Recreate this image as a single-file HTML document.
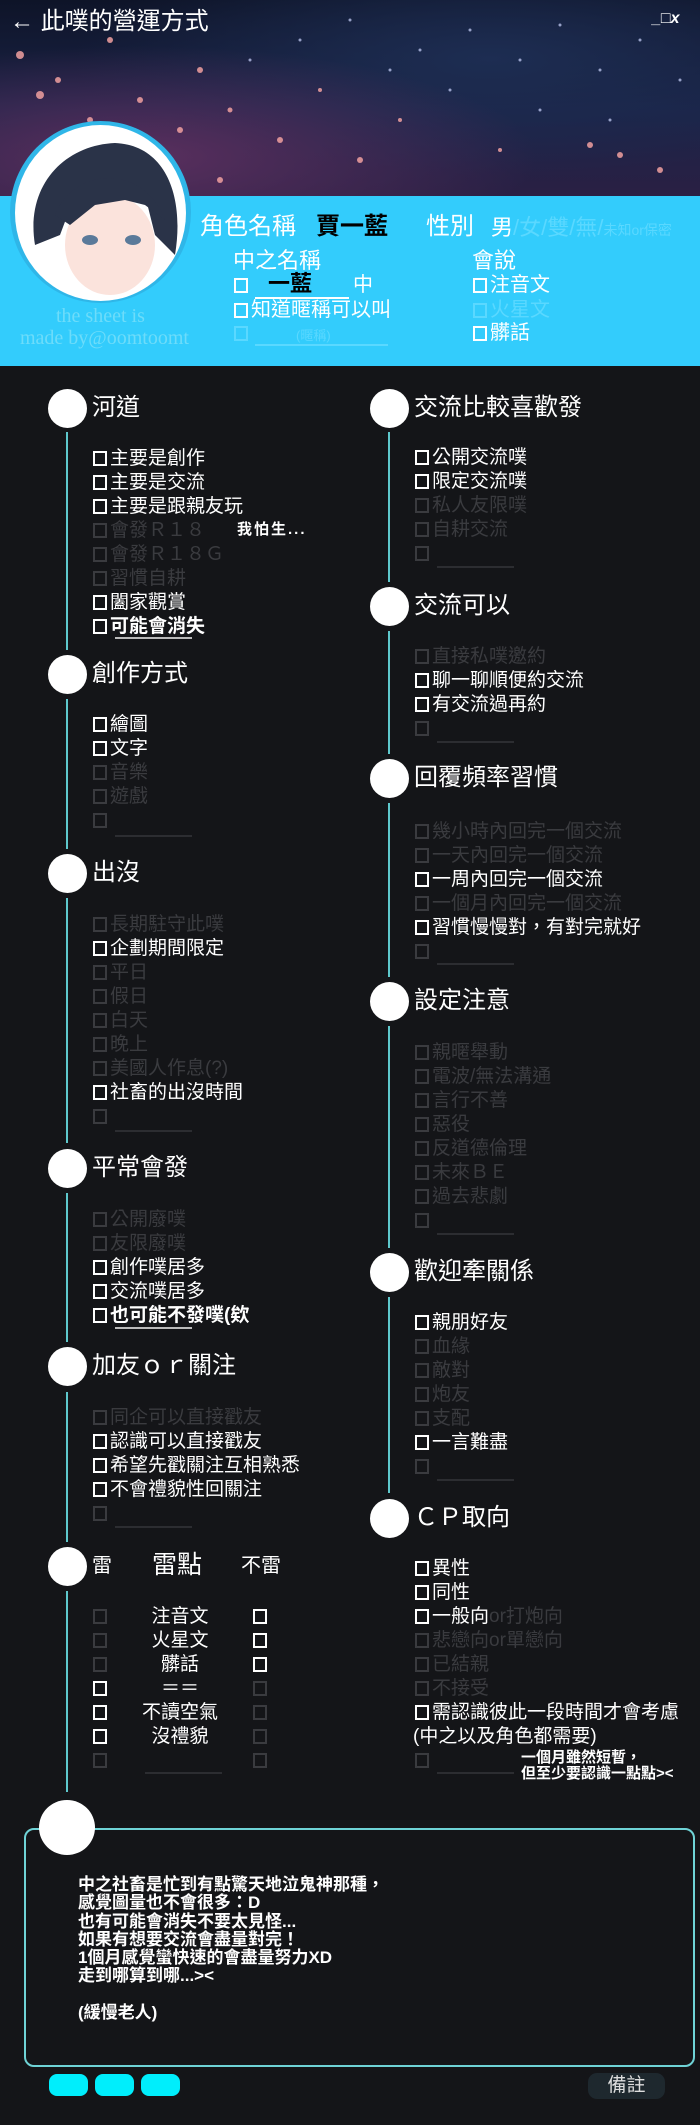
<!DOCTYPE html>
<html><head><meta charset="utf-8">
<style>
*{margin:0;padding:0;box-sizing:border-box}
body{width:700px;height:2125px;background:#141518;position:relative;overflow:hidden;font-family:"Liberation Sans","Noto Sans CJK TC",sans-serif;color:#fff}
.a{position:absolute;white-space:nowrap}
.it{position:absolute;font-size:19px;line-height:24px;white-space:nowrap;color:#fff}
.f{color:#3a3b3f}
i.b{display:inline-block;width:14px;height:15px;border:2px solid currentColor;vertical-align:-2px;margin-right:3px}
.t{position:absolute;font-size:24px;line-height:30px;white-space:nowrap;color:#fff}
.c{position:absolute;width:39px;height:39px;border-radius:50%;background:#fff}
.ln{position:absolute;width:2px;background:#5ec8cc}
.ul{position:absolute;height:2px;background:#2c2d31;width:77px}
</style></head><body>
<div class="a" style="left:0;top:0;width:700px;height:196px;background:radial-gradient(ellipse at 20% 80%,#5a2f5e 0%,rgba(40,30,70,0) 50%),radial-gradient(ellipse at 70% 30%,#1d2d52 0%,rgba(0,0,0,0) 60%),linear-gradient(180deg,#0e1428 0%,#1a2347 55%,#2a2044 100%)"></div>
<svg class="a" style="left:0;top:0" width="700" height="196">
<g fill="#f0a0a0" opacity="0.85">
<circle cx="20" cy="55" r="4"/><circle cx="58" cy="80" r="3"/><circle cx="40" cy="95" r="4"/><circle cx="90" cy="120" r="3"/><circle cx="140" cy="100" r="3"/><circle cx="180" cy="130" r="3"/><circle cx="230" cy="110" r="2.5"/><circle cx="280" cy="140" r="3"/><circle cx="320" cy="90" r="2"/><circle cx="360" cy="160" r="3"/><circle cx="400" cy="120" r="2"/><circle cx="60" cy="150" r="3"/><circle cx="150" cy="160" r="3"/><circle cx="220" cy="180" r="3"/><circle cx="590" cy="145" r="3"/><circle cx="620" cy="155" r="3"/><circle cx="660" cy="170" r="3"/><circle cx="500" cy="150" r="2"/><circle cx="110" cy="40" r="3"/><circle cx="200" cy="70" r="3"/></g>
<g fill="#cdd6ff" opacity="0.7">
<circle cx="300" cy="40" r="1.5"/><circle cx="350" cy="20" r="1.5"/><circle cx="420" cy="50" r="1.5"/><circle cx="470" cy="30" r="1.5"/><circle cx="520" cy="60" r="1.5"/><circle cx="560" cy="25" r="1.5"/><circle cx="600" cy="70" r="1.5"/><circle cx="640" cy="40" r="1.5"/><circle cx="680" cy="80" r="1.5"/><circle cx="450" cy="90" r="1.5"/><circle cx="390" cy="70" r="1.5"/><circle cx="250" cy="60" r="1.5"/><circle cx="540" cy="110" r="1.5"/><circle cx="610" cy="120" r="1.5"/></g>
</svg>
<div class="a" style="left:10px;top:7px;font-size:24px;line-height:30px">← 此噗的營運方式</div>
<div class="a" style="left:652px;top:10px;font-size:16px;font-weight:bold;font-style:italic">_□x</div>
<div class="a" style="left:0;top:196px;width:700px;height:170px;background:#33ccfc"></div>
<div class="a" style="left:10px;top:121px;width:181px;height:182px;border-radius:50%;background:#2fb6e8"></div>
<div class="a" style="left:15px;top:125px;width:171px;height:176px;border-radius:50%;background:#fff;overflow:hidden">
<svg width="171" height="176"><path d="M20 120 C10 60 50 20 100 18 C150 20 170 70 160 130 L140 110 L130 70 L100 60 L60 70 L45 110 Z" fill="#2a3348"/><ellipse cx="95" cy="120" rx="45" ry="50" fill="#fbe3dc"/><path d="M40 90 C60 40 130 40 150 95 L130 80 L110 75 L80 80 L55 100 Z" fill="#2a3348"/><ellipse cx="75" cy="115" rx="8" ry="5" fill="#5a7a9a"/><ellipse cx="118" cy="115" rx="8" ry="5" fill="#5a7a9a"/></svg></div>
<div class="a" style="left:200px;top:212px;font-size:24px;line-height:30px">角色名稱</div>
<div class="a" style="left:316px;top:212px;font-size:24px;line-height:30px;color:#000;font-weight:bold">賈一藍</div>
<div class="a" style="left:426px;top:212px;font-size:24px;line-height:30px">性別</div>
<div class="a" style="left:491px;top:214px;font-size:22px;line-height:28px">男<span style="color:#5ad8ff">/女/雙/無/<span style="font-size:14px">未知or保密</span></span></div>
<div class="a" style="left:233px;top:247px;font-size:22px;line-height:28px">中之名稱</div>
<div class="it" style="left:234px;top:273px;font-size:20px"><i class="b"></i></div>
<div class="a" style="left:268px;top:270px;font-size:22px;line-height:28px;color:#000;font-weight:bold">一藍</div>
<div class="a" style="left:255px;top:297px;width:94px;height:2px;background:#fff"></div>
<div class="it" style="left:353px;top:273px;font-size:20px">中</div>
<div class="it" style="left:234px;top:298px;font-size:20px"><i class="b"></i>知道暱稱可以叫</div>
<div class="it" style="left:234px;top:321px;font-size:20px;color:#5ad8ff"><i class="b"></i></div>
<div class="a" style="left:296px;top:325px;font-size:13px;color:#5ad8ff">(暱稱)</div>
<div class="a" style="left:255px;top:344px;width:133px;height:2px;background:#5ad8ff"></div>
<div class="a" style="left:472px;top:247px;font-size:22px;line-height:28px">會說</div>
<div class="it" style="left:473px;top:273px;font-size:20px"><i class="b"></i>注音文</div>
<div class="it" style="left:473px;top:298px;font-size:20px;color:#5ad8ff"><i class="b"></i>火星文</div>
<div class="it" style="left:473px;top:321px;font-size:20px"><i class="b"></i>髒話</div>
<div class="a" style="left:56px;top:305px;font-size:20px;font-family:'Liberation Serif',serif;color:#6ddcfa">the sheet is</div>
<div class="a" style="left:20px;top:327px;font-size:20px;font-family:'Liberation Serif',serif;color:#6ddcfa">made by@oomtoomt</div>

<div class="ln" style="left:66px;top:432px;height:218px"></div>
<div class="ln" style="left:66px;top:699px;height:150px"></div>
<div class="ln" style="left:66px;top:898px;height:245px"></div>
<div class="ln" style="left:66px;top:1193px;height:149px"></div>
<div class="ln" style="left:66px;top:1392px;height:150px"></div>
<div class="ln" style="left:66px;top:1591px;height:201px"></div>
<div class="ln" style="left:388px;top:432px;height:150px"></div>
<div class="ln" style="left:388px;top:631px;height:123px"></div>
<div class="ln" style="left:388px;top:803px;height:174px"></div>
<div class="ln" style="left:388px;top:1026px;height:222px"></div>
<div class="ln" style="left:388px;top:1297px;height:196px"></div>

<div class="c" style="left:48px;top:389px"></div>
<div class="c" style="left:48px;top:655px"></div>
<div class="c" style="left:48px;top:854px"></div>
<div class="c" style="left:48px;top:1149px"></div>
<div class="c" style="left:48px;top:1347px"></div>
<div class="c" style="left:48px;top:1547px"></div>
<div class="c" style="left:370px;top:389px"></div>
<div class="c" style="left:370px;top:587px"></div>
<div class="c" style="left:370px;top:759px"></div>
<div class="c" style="left:370px;top:982px"></div>
<div class="c" style="left:370px;top:1253px"></div>
<div class="c" style="left:370px;top:1499px"></div>

<div class="t" style="left:92px;top:393px">河道</div>
<div class="t" style="left:92px;top:659px">創作方式</div>
<div class="t" style="left:92px;top:858px">出沒</div>
<div class="t" style="left:92px;top:1153px">平常會發</div>
<div class="t" style="left:92px;top:1351px">加友ｏｒ關注</div>
<div class="a" style="left:92px;top:1553px;font-size:20px;line-height:26px">雷</div>
<div class="a" style="left:152px;top:1550px;font-size:25px;line-height:30px">雷點</div>
<div class="a" style="left:241px;top:1553px;font-size:20px;line-height:26px">不雷</div>
<div class="t" style="left:414px;top:393px">交流比較喜歡發</div>
<div class="t" style="left:414px;top:591px">交流可以</div>
<div class="t" style="left:414px;top:763px">回覆頻率習慣</div>
<div class="t" style="left:414px;top:986px">設定注意</div>
<div class="t" style="left:414px;top:1257px">歡迎牽關係</div>
<div class="t" style="left:414px;top:1503px">ＣＰ取向</div>

<div class="it" style="left:93px;top:447px"><i class="b"></i>主要是創作</div>
<div class="it" style="left:93px;top:471px"><i class="b"></i>主要是交流</div>
<div class="it" style="left:93px;top:495px"><i class="b"></i>主要是跟親友玩</div>
<div class="it f" style="left:93px;top:519px"><i class="b"></i>會發Ｒ１８</div>
<div class="it f" style="left:93px;top:543px"><i class="b"></i>會發Ｒ１８Ｇ</div>
<div class="it f" style="left:93px;top:567px"><i class="b"></i>習慣自耕</div>
<div class="it" style="left:93px;top:591px"><i class="b"></i>闔家觀賞</div>
<div class="it" style="left:93px;top:615px;font-weight:bold"><i class="b"></i>可能會消失</div>
<div class="a" style="left:115px;top:637px;width:77px;height:2px;background:#bbb"></div>
<div class="a" style="left:237px;top:518px;font-size:15px;font-weight:bold;letter-spacing:2px">我怕生...</div>
<div class="it" style="left:93px;top:713px"><i class="b"></i>繪圖</div>
<div class="it" style="left:93px;top:737px"><i class="b"></i>文字</div>
<div class="it f" style="left:93px;top:761px"><i class="b"></i>音樂</div>
<div class="it f" style="left:93px;top:785px"><i class="b"></i>遊戲</div>
<div class="it f" style="left:93px;top:809px"><i class="b"></i></div>
<div class="ul" style="left:115px;top:835px"></div>
<div class="it f" style="left:93px;top:913px"><i class="b"></i>長期駐守此噗</div>
<div class="it" style="left:93px;top:937px"><i class="b"></i>企劃期間限定</div>
<div class="it f" style="left:93px;top:961px"><i class="b"></i>平日</div>
<div class="it f" style="left:93px;top:985px"><i class="b"></i>假日</div>
<div class="it f" style="left:93px;top:1009px"><i class="b"></i>白天</div>
<div class="it f" style="left:93px;top:1033px"><i class="b"></i>晚上</div>
<div class="it f" style="left:93px;top:1057px"><i class="b"></i>美國人作息(?)</div>
<div class="it" style="left:93px;top:1081px"><i class="b"></i>社畜的出沒時間</div>
<div class="it f" style="left:93px;top:1105px"><i class="b"></i></div>
<div class="ul" style="left:115px;top:1130px"></div>
<div class="it f" style="left:93px;top:1208px"><i class="b"></i>公開廢噗</div>
<div class="it f" style="left:93px;top:1232px"><i class="b"></i>友限廢噗</div>
<div class="it" style="left:93px;top:1256px"><i class="b"></i>創作噗居多</div>
<div class="it" style="left:93px;top:1280px"><i class="b"></i>交流噗居多</div>
<div class="it" style="left:93px;top:1304px;font-weight:bold"><i class="b"></i>也可能不發噗(欸</div>
<div class="a" style="left:115px;top:1327px;width:77px;height:2px;background:#bbb"></div>
<div class="it f" style="left:93px;top:1406px"><i class="b"></i>同企可以直接戳友</div>
<div class="it" style="left:93px;top:1430px"><i class="b"></i>認識可以直接戳友</div>
<div class="it" style="left:93px;top:1454px"><i class="b"></i>希望先戳關注互相熟悉</div>
<div class="it" style="left:93px;top:1478px"><i class="b"></i>不會禮貌性回關注</div>
<div class="it f" style="left:93px;top:1502px"><i class="b"></i></div>
<div class="ul" style="left:115px;top:1526px"></div>
<div class="it f" style="left:93px;top:1605px"><i class="b"></i></div><div class="it" style="left:140px;top:1605px;width:80px;text-align:center">注音文</div><div class="it" style="left:253px;top:1605px"><i class="b"></i></div>
<div class="it f" style="left:93px;top:1629px"><i class="b"></i></div><div class="it" style="left:140px;top:1629px;width:80px;text-align:center">火星文</div><div class="it" style="left:253px;top:1629px"><i class="b"></i></div>
<div class="it f" style="left:93px;top:1653px"><i class="b"></i></div><div class="it" style="left:140px;top:1653px;width:80px;text-align:center">髒話</div><div class="it" style="left:253px;top:1653px"><i class="b"></i></div>
<div class="it" style="left:93px;top:1677px"><i class="b"></i></div><div class="it" style="left:140px;top:1677px;width:80px;text-align:center">＝＝</div><div class="it f" style="left:253px;top:1677px"><i class="b"></i></div>
<div class="it" style="left:93px;top:1701px"><i class="b"></i></div><div class="it" style="left:140px;top:1701px;width:80px;text-align:center">不讀空氣</div><div class="it f" style="left:253px;top:1701px"><i class="b"></i></div>
<div class="it" style="left:93px;top:1725px"><i class="b"></i></div><div class="it" style="left:140px;top:1725px;width:80px;text-align:center">沒禮貌</div><div class="it f" style="left:253px;top:1725px"><i class="b"></i></div>
<div class="it f" style="left:93px;top:1749px"><i class="b"></i></div><div class="ul" style="left:145px;top:1772px"></div><div class="it f" style="left:253px;top:1749px"><i class="b"></i></div>

<div class="it" style="left:415px;top:446px"><i class="b"></i>公開交流噗</div>
<div class="it" style="left:415px;top:470px"><i class="b"></i>限定交流噗</div>
<div class="it f" style="left:415px;top:494px"><i class="b"></i>私人友限噗</div>
<div class="it f" style="left:415px;top:518px"><i class="b"></i>自耕交流</div>
<div class="it f" style="left:415px;top:542px"><i class="b"></i></div>
<div class="ul" style="left:437px;top:566px"></div>
<div class="it f" style="left:415px;top:645px"><i class="b"></i>直接私噗邀約</div>
<div class="it" style="left:415px;top:669px"><i class="b"></i>聊一聊順便約交流</div>
<div class="it" style="left:415px;top:693px"><i class="b"></i>有交流過再約</div>
<div class="it f" style="left:415px;top:717px"><i class="b"></i></div>
<div class="ul" style="left:437px;top:741px"></div>
<div class="it f" style="left:415px;top:820px"><i class="b"></i>幾小時內回完一個交流</div>
<div class="it f" style="left:415px;top:844px"><i class="b"></i>一天內回完一個交流</div>
<div class="it" style="left:415px;top:868px"><i class="b"></i>一周內回完一個交流</div>
<div class="it f" style="left:415px;top:892px"><i class="b"></i>一個月內回完一個交流</div>
<div class="it" style="left:415px;top:916px"><i class="b"></i>習慣慢慢對，有對完就好</div>
<div class="it f" style="left:415px;top:940px"><i class="b"></i></div>
<div class="ul" style="left:437px;top:963px"></div>
<div class="it f" style="left:415px;top:1041px"><i class="b"></i>親暱舉動</div>
<div class="it f" style="left:415px;top:1065px"><i class="b"></i>電波/無法溝通</div>
<div class="it f" style="left:415px;top:1089px"><i class="b"></i>言行不善</div>
<div class="it f" style="left:415px;top:1113px"><i class="b"></i>惡役</div>
<div class="it f" style="left:415px;top:1137px"><i class="b"></i>反道德倫理</div>
<div class="it f" style="left:415px;top:1161px"><i class="b"></i>未來ＢＥ</div>
<div class="it f" style="left:415px;top:1185px"><i class="b"></i>過去悲劇</div>
<div class="it f" style="left:415px;top:1209px"><i class="b"></i></div>
<div class="ul" style="left:437px;top:1233px"></div>
<div class="it" style="left:415px;top:1311px"><i class="b"></i>親朋好友</div>
<div class="it f" style="left:415px;top:1335px"><i class="b"></i>血緣</div>
<div class="it f" style="left:415px;top:1359px"><i class="b"></i>敵對</div>
<div class="it f" style="left:415px;top:1383px"><i class="b"></i>炮友</div>
<div class="it f" style="left:415px;top:1407px"><i class="b"></i>支配</div>
<div class="it" style="left:415px;top:1431px"><i class="b"></i>一言難盡</div>
<div class="it f" style="left:415px;top:1455px"><i class="b"></i></div>
<div class="ul" style="left:437px;top:1479px"></div>
<div class="it" style="left:415px;top:1557px"><i class="b"></i>異性</div>
<div class="it" style="left:415px;top:1581px"><i class="b"></i>同性</div>
<div class="it" style="left:415px;top:1605px"><i class="b"></i>一般向<span class="f">or打炮向</span></div>
<div class="it f" style="left:415px;top:1629px"><i class="b"></i>悲戀向or單戀向</div>
<div class="it f" style="left:415px;top:1653px"><i class="b"></i>已結親</div>
<div class="it f" style="left:415px;top:1677px"><i class="b"></i>不接受</div>
<div class="it" style="left:415px;top:1701px"><i class="b"></i>需認識彼此一段時間才會考慮</div>
<div class="it" style="left:413px;top:1725px">(中之以及角色都需要)</div>
<div class="it f" style="left:415px;top:1749px"><i class="b"></i></div>
<div class="ul" style="left:437px;top:1772px"></div>
<div class="a" style="left:521px;top:1750px;font-size:15px;line-height:16px;font-weight:bold">一個月雖然短暫，<br>但至少要認識一點點&gt;&lt;</div>

<div class="a" style="left:24px;top:1828px;width:671px;height:239px;border:2px solid #6fd3d6;border-radius:10px"></div>
<div class="a" style="left:39px;top:1800px;width:56px;height:55px;border-radius:50%;background:#fff"></div>
<div class="a" style="left:78px;top:1876px;font-size:17px;line-height:18.3px;font-weight:bold">中之社畜是忙到有點驚天地泣鬼神那種，<br>感覺圖量也不會很多：D<br>也有可能會消失不要太見怪...<br>如果有想要交流會盡量對完！<br>1個月感覺蠻快速的會盡量努力XD<br>走到哪算到哪...&gt;&lt;<br><br>(緩慢老人)</div>
<div class="a" style="left:49px;top:2074px;width:39px;height:22px;border-radius:8px;background:#00eefc"></div>
<div class="a" style="left:95px;top:2074px;width:39px;height:22px;border-radius:8px;background:#00eefc"></div>
<div class="a" style="left:141px;top:2074px;width:39px;height:22px;border-radius:8px;background:#00eefc"></div>
<div class="a" style="left:588px;top:2073px;width:77px;height:26px;border-radius:9px;background:#1e282e;color:#ddd;font-size:19px;line-height:26px;text-align:center">備註</div>
</body></html>
